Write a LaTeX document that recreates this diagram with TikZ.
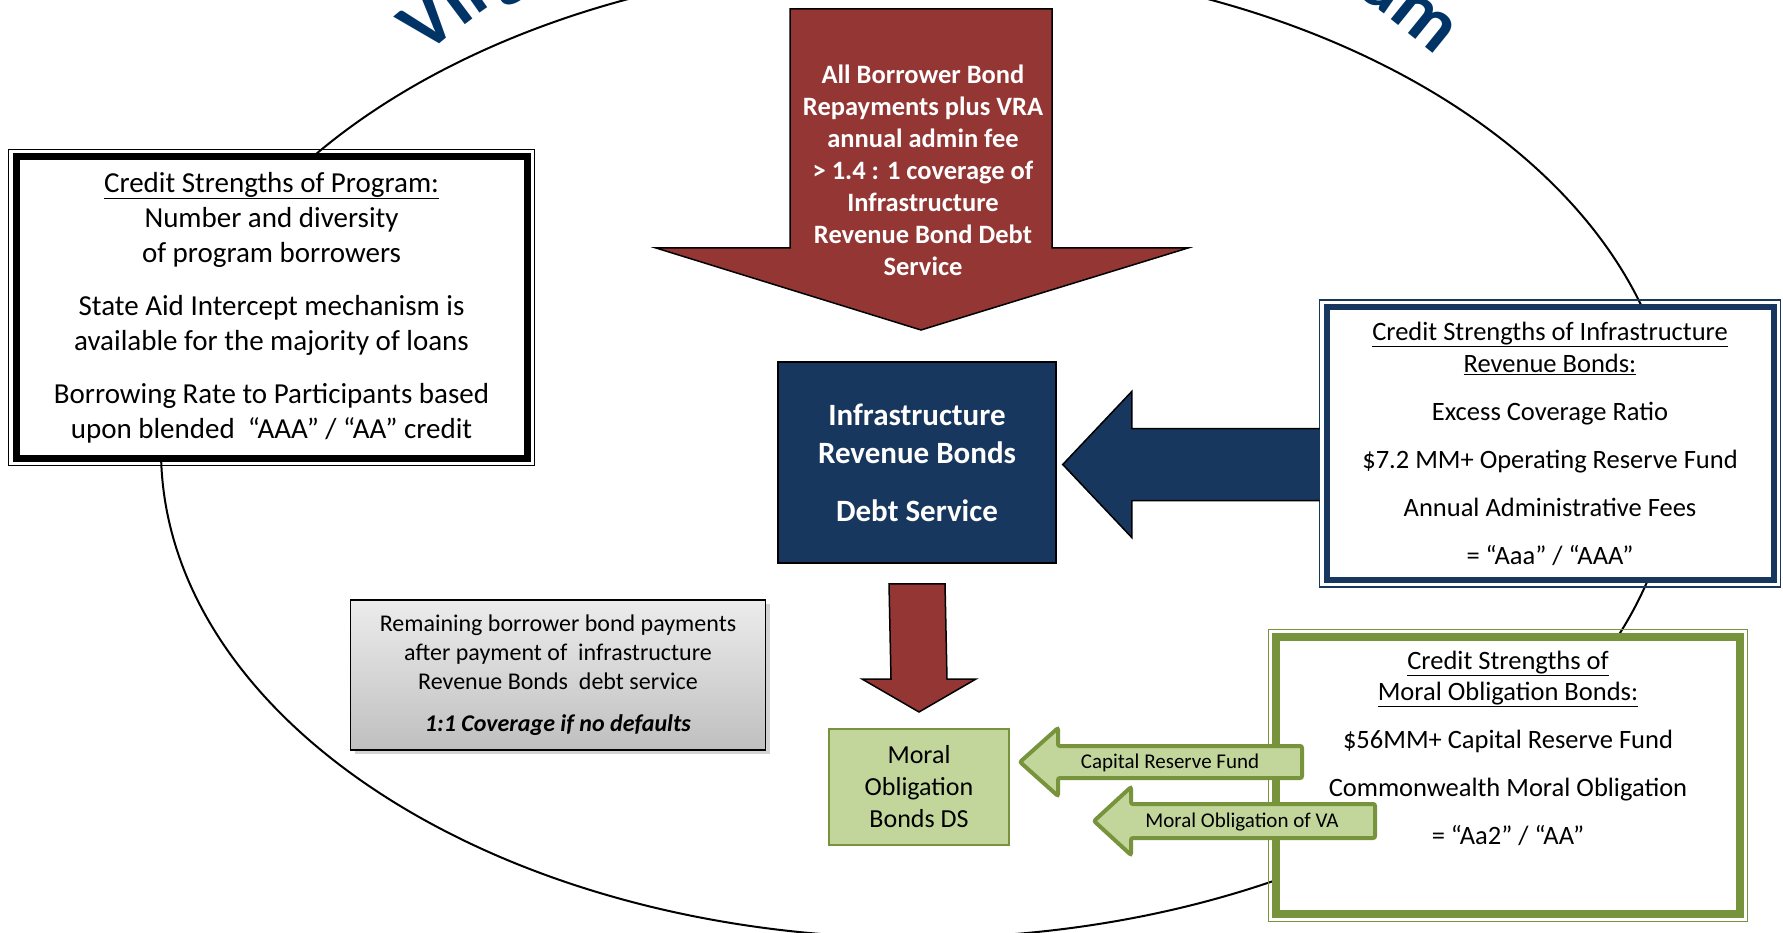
\documentclass[tikz,border=0pt]{standalone}
\usepackage{fontspec}
\setmainfont{Carlito}
\usepackage{tikz}
\usetikzlibrary{shapes, arrows, positioning, calc, shadows, decorations.text}

\definecolor{vranavy}{HTML}{17375E}
\definecolor{vrared}{HTML}{943634}
\definecolor{vragreen}{HTML}{77933C}
\definecolor{vralime}{HTML}{C2D69B}
\definecolor{vratitle}{HTML}{003366}

\begin{document}
\begin{tikzpicture}[x=1pt, y=1pt,
			progbox/.style={draw=black, fill=white, line width=7pt, minimum width=511, minimum height=301, align=center, font=\fontsize{29}{35}\selectfont},
			irbbox/.style={draw=vranavy, fill=white, line width=6pt, minimum width=447, minimum height=273, align=center, font=\fontsize{26.5}{32}\selectfont},
			mobbox/.style={draw=vragreen, fill=white, line width=8pt, minimum width=464, minimum height=277},
			outerline/.style={line width=1.5pt},
			dsbox/.style={draw=black, line width=1.5pt, fill=vranavy, text=white, minimum width=278, minimum height=201, align=center, font=\fontsize{31}{38}\selectfont\bfseries},
			limebox/.style={draw=vragreen, line width=2pt, fill=vralime, minimum width=180, minimum height=116, align=center, font=\fontsize{26}{32}\selectfont},
			remainbox/.style={draw=black, line width=1.5pt, top color=gray!15, bottom color=gray!50, minimum width=415, minimum height=150, align=center, font=\fontsize{24}{29}\selectfont, drop shadow={shadow xshift=4pt, shadow yshift=-4pt, opacity=.35}},
			redblock/.style={draw=black, line width=1.5pt, fill=vrared},
			navyblock/.style={draw=black, line width=1.5pt, fill=vranavy},
			greenblock/.style={draw=vragreen, line width=4pt, fill=vralime, rounded corners=2pt},
			arrowtext/.style={font=\fontsize{21}{25}\selectfont, inner sep=0pt}
		]
		\useasboundingbox (0,0) rectangle (1783,-933);
		\clip (0,0) rectangle (1783,-933);

		% program ring and its title
		\draw[line width=2pt] (918,-450) ellipse [x radius=757, y radius=488];
		\path[decorate, decoration={text along path, text align=center, text color=vratitle,
				text={|\fontsize{77}{77}\selectfont\bfseries|Virginia Pooled Financing Program}}]
			(931,-472) ++(160:700 and 600) arc[start angle=160, end angle=20, x radius=700, y radius=600];

		% left box
		\node[progbox] (prog) at (271.5,-307.5) {\underline{Credit Strengths of Program:}\\
			Number and diversity\\ of program borrowers\\[18pt]
			State Aid Intercept mechanism is\\ available for the majority of loans\\[18pt]
			Borrowing Rate to Participants based\\ upon blended~ “AAA” / “AA” credit};
		\draw[outerline] ([shift={(-4,4)}]prog.north west) rectangle ([shift={(4,-4)}]prog.south east);

		% repayments coming in
		\filldraw[redblock] (790,-9) -- (1052,-9) -- (1052,-248) -- (1188,-248) -- (921,-330) -- (656,-248) -- (790,-248) -- cycle;
		\node[font=\fontsize{26.5}{32}\selectfont\bfseries, text=white, align=center] (repay) at (923,-170)
			{All Borrower Bond\\ Repayments plus VRA\\ annual admin fee\\ > 1.4 : 1 coverage of\\ Infrastructure\\ Revenue Bond Debt\\ Service};

		% debt service box
		\node[dsbox] (irb) at (917,-462.5) {Infrastructure\\ Revenue Bonds\\[20pt] Debt Service};

		% right upper box
		\node[irbbox] (irbox) at (1550,-443.5) {\underline{Credit Strengths of Infrastructure}\\ \underline{Revenue Bonds:}\\[16pt]
			Excess Coverage Ratio\\[16pt] \$7.2 MM+ Operating Reserve Fund\\[16pt]
			Annual Administrative Fees\\[16pt] = “Aaa” / “AAA”};
		\draw[outerline, vranavy] ([shift={(-4,4)}]irbox.north west) rectangle ([shift={(4,-4)}]irbox.south east);

		\coordinate (cvtip) at ($(irb.east)+(6,-2)$);
		\filldraw[navyblock] let \p1=(cvtip), \p2=(irbox.west) in
			(\x2-4,\y1+36) -- (\x1+69,\y1+36) -- (\x1+69,\y1+73) -- (\p1) -- (\x1+69,\y1-73) -- (\x1+69,\y1-36) -- (\x2-4,\y1-36);

		% remaining payments
		\node[remainbox] (remain) at (558,-675) {Remaining borrower bond payments\\
			after payment of~ infrastructure\\ Revenue Bonds~ debt service\\[13pt]
			\textbf{\textit{1:1 Coverage if no defaults}}};

		% moral obligation debt service
		\node[limebox] (mob) at (919,-787) {Moral\\ Obligation\\ Bonds DS};

		\coordinate (dstop) at ($(irb.south)+(0,-20)$);
		\coordinate (dstip) at ($(mob.north)+(0,16)$);
		\filldraw[redblock] ($(dstop)+(-28,0)$) -- ($(dstop)+(28,0)$) -- ($(dstip)+(28,33)$) -- ($(dstip)+(57,33)$)
			-- (dstip) -- ($(dstip)+(-57,33)$) -- ($(dstip)+(-28,33)$) -- cycle;

		% right lower box
		\node[mobbox] (mobox) at (1508,-775.5) {};
		\draw[outerline, vragreen] ([shift={(-3.5,3.5)}]mobox.north west) rectangle ([shift={(3.5,-3.5)}]mobox.south east);
		\node[font=\fontsize{26.5}{31}\selectfont, align=center, anchor=north, inner sep=0pt] (mobtxt) at ($(mobox.north)+(0,-18)$)
			{\underline{Credit Strengths of}\\ \underline{Moral Obligation Bonds:}\\[17pt]
			\$56MM+ Capital Reserve Fund\\[17pt] Commonwealth Moral Obligation\\[17pt] = “Aa2” / “AA”};

		% support arrows
		\coordinate (crftip) at ($(mob.east)+(10,25)$);
		\filldraw[greenblock] (crftip) -- ++(38,34) -- ++(0,-18) -- ++(244,0) -- ++(0,-32) -- ++(-244,0) -- ++(0,-18) -- cycle;
		\node[arrowtext] (crf) at ($(crftip)+(150,-1)$) {Capital Reserve Fund};

		\coordinate (movtip) at ($(mob.east)+(84,-34)$);
		\filldraw[greenblock] (movtip) -- ++(37,34) -- ++(0,-17) -- ++(244,0) -- ++(0,-34) -- ++(-244,0) -- ++(0,-17) -- cycle;
		\node[arrowtext] (mov) at ($(movtip)+(148,-1)$) {Moral Obligation of VA};
	\end{tikzpicture}
\end{document}
